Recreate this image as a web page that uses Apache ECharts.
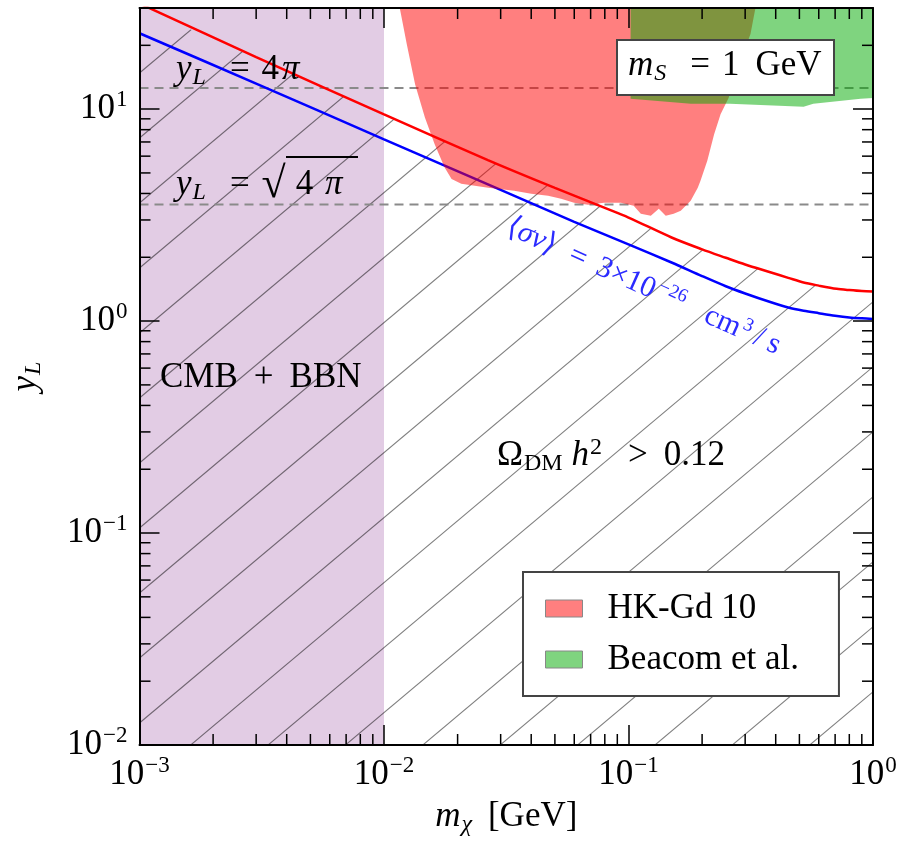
<!DOCTYPE html>
<html>
<head>
<meta charset="utf-8">
<title>y_L vs m_chi</title>
<script src="https://cdn.jsdelivr.net/npm/echarts@6.0.0/dist/echarts.min.js"></script>
<style>
html,body{margin:0;padding:0;background:#ffffff;}
#chart{width:908px;height:844px;}
</style>
</head>
<body>
<div id="chart"></div>
<script>
// ---------------- data ----------------
const xRange = [0.001, 1];
const yRange = [0.01, 30];
const xTickExponents = [-3, -2, -1, 0];
const yTickExponents = [-2, -1, 0, 1];

const cmbBbnX = [0.001, 0.01];
const couplingLimits = [4 * Math.PI, Math.sqrt(4 * Math.PI)];

// Omega_DM h^2 = 0.12 (red line)
const relicM = [0.001, 0.003, 0.01, 0.0266, 0.05, 0.08, 0.1, 0.15, 0.2, 0.25, 0.3, 0.38, 0.45, 0.52, 0.6, 0.71, 0.8, 0.9, 1.0];
const relicY = [31.5, 17.6, 9.45, 5.75, 4.25, 3.42, 3.08, 2.48, 2.18, 1.99, 1.85, 1.70, 1.60, 1.52, 1.47, 1.42, 1.40, 1.385, 1.38];

// <sigma v> = 3e-26 cm^3/s (blue line)
const sigmaM = [0.001, 0.003, 0.01, 0.03, 0.06, 0.1, 0.15, 0.2, 0.25, 0.3, 0.38, 0.45, 0.52, 0.6, 0.7, 0.8, 0.9, 1.0];
const sigmaY = [22.8, 13.2, 7.2, 4.16, 2.94, 2.30, 1.89, 1.63, 1.46, 1.35, 1.23, 1.16, 1.12, 1.09, 1.06, 1.04, 1.03, 1.024];

// HK-Gd 10 region (lower boundary, closed along the top)
const hkM = [0.0116, 0.0124, 0.0134, 0.0147, 0.0161, 0.0177, 0.0189, 0.0207, 0.0267, 0.0341, 0.0400, 0.0469, 0.0530, 0.0599, 0.0683, 0.0794, 0.0931, 0.105, 0.1123, 0.1234, 0.133, 0.142, 0.153, 0.1636, 0.1796, 0.192, 0.197, 0.210, 0.224, 0.238, 0.2566, 0.287, 0.3155, 0.3305];
const hkY = [30, 20.2, 13.1, 9.13, 6.84, 5.31, 4.68, 4.45, 4.26, 4.12, 3.99, 3.90, 3.78, 3.62, 3.54, 3.62, 3.62, 3.50, 3.21, 3.14, 3.39, 3.14, 3.21, 3.32, 3.70, 4.26, 4.59, 5.70, 7.62, 9.47, 11.3, 16.9, 22.6, 30];

// Beacom et al. region
const beacomM = [0.102, 0.102, 0.18, 0.26, 0.52, 0.57, 0.89, 1.0, 1.0];
const beacomY = [30, 11.2, 10.6, 10.6, 10.25, 10.6, 11.2, 11.3, 30];

// ---------------- helpers ----------------
const FONT = "'Liberation Serif', 'Times New Roman', serif";
const BLUE_TXT = '#2b2bff';
const HATCH_STEP = 65;     // vertical distance between hatch lines (px)
const HATCH_SLOPE = 0.84;  // rise per px
const zip = (a, b) => a.map((v, i) => [v, b[i]]);

const xMinor = [], yMinor = [];
for (let d = -3; d < 0; d++) for (let k = 2; k <= 9; k++) xMinor.push(k * Math.pow(10, d));
for (let d = -2; d <= 1; d++) for (let k = 2; k <= 9; k++) { const v = k * Math.pow(10, d); if (v < yRange[1]) yMinor.push(v); }

function powLabel(list) {
  return function (v) {
    const e = Math.log10(v), r = Math.round(e);
    if (Math.abs(e - r) > 1e-6 || list.indexOf(r) < 0) return '';
    return '{b|10}{e|' + String(r).replace('-', '\u2212') + '}';
  };
}
const labelRich = {
  b: { fontFamily: FONT, fontSize: 35, color: '#000' },
  e: { fontFamily: FONT, fontSize: 23, color: '#000', padding: [0, 0, 18, 1] }
};
function tk(size, extra) {
  return Object.assign({ fontFamily: FONT, fontSize: size, fontWeight: 'normal', color: '#000', fill: '#000' }, extra || {});
}
function btk(size, extra) {
  return Object.assign({ fontFamily: FONT, fontSize: size, fontWeight: 'normal', color: BLUE_TXT, fill: BLUE_TXT }, extra || {});
}
const textRich = {
  n: tk(35),
  i: tk(35, { fontStyle: 'italic' }),
  sub: tk(24, { fontStyle: 'italic', padding: [16, 0, 0, 1] }),
  subn: tk(24, { padding: [16, 0, 0, 1] }),
  sup: tk(24, { padding: [0, 0, 16, 1] }),
  eq: tk(35, { padding: [0, 12, 0, 24] }),
  pl: tk(35, { padding: [0, 16, 0, 16] }),
  gt: tk(35, { padding: [0, 16, 0, 26] }),
  n4: tk(35, { padding: [0, 3, 0, 0] }),
  gev: tk(35, { padding: [0, 0, 0, 16] }),
  sqb: tk(44, { padding: [0, 10, 0, 0] }),
  bt: btk(30),
  bi: btk(30, { fontStyle: 'italic' }),
  beq: btk(30, { padding: [0, 13, 0, 16] }),
  bsup: btk(19, { padding: [0, 0, 14, 3] }),
  bsup3: btk(19, { padding: [0, 0, 14, 2] }),
  bcm: btk(30, { padding: [0, 0, 0, 24] }),
  bsl: btk(30, { padding: [0, 6, 0, 6] })
};

function polygonSeries(name, xs, ys, color, z) {
  const data = zip(xs, ys);
  return {
    type: 'custom', name: name, z: z, silent: true,
    coordinateSystem: 'cartesian2d', encode: { x: 0, y: 1 },
    itemStyle: { color: color },
    data: data,
    renderItem: function (params, api) {
      if (params.dataIndex !== 0) return;
      return { type: 'polygon', shape: { points: data.map(p => api.coord(p)) }, style: { fill: color } };
    }
  };
}

// hatch below the relic-density curve, clipped by it
function hatchSeries(xs, ys) {
  const data = zip(xs, ys);
  return {
    type: 'custom', name: 'overabundant', z: 2, silent: true,
    coordinateSystem: 'cartesian2d', encode: { x: 0, y: 1 },
    data: data,
    renderItem: function (params, api) {
      if (params.dataIndex !== 0) return;
      const tl = api.coord([xRange[0], yRange[1]]);
      const br = api.coord([xRange[1], yRange[0]]);
      const W = br[0] - tl[0];
      const clip = data.map(p => { const c = api.coord(p); return [c[0], Math.max(c[1], tl[1])]; });
      clip.push([br[0], br[1]], [tl[0], br[1]]);
      const n = Math.ceil((br[1] - tl[1] + HATCH_SLOPE * W) / HATCH_STEP);
      const children = [];
      for (let k = 1; k <= n; k++) {
        const y0 = tl[1] + k * HATCH_STEP;
        children.push({
          type: 'line',
          shape: { x1: tl[0], y1: y0, x2: br[0], y2: y0 - HATCH_SLOPE * W },
          style: { stroke: 'rgba(0,0,0,0.5)', lineWidth: 1.1 }
        });
      }
      return { type: 'group', children: children, clipPath: { type: 'polygon', shape: { points: clip } } };
    }
  };
}

function tickSeries(values, isX) {
  return {
    type: 'custom', z: 12, silent: true,
    coordinateSystem: 'cartesian2d', encode: { x: 0, y: 1 },
    data: values.map(v => isX ? [v, yRange[0]] : [xRange[0], v]),
    renderItem: function (params, api) {
      const st = { stroke: '#000', lineWidth: 1.5 };
      if (isX) {
        const v = api.value(0);
        const b = api.coord([v, yRange[0]]), t = api.coord([v, yRange[1]]);
        return { type: 'group', children: [
          { type: 'line', shape: { x1: b[0], y1: b[1], x2: b[0], y2: b[1] - 11 }, style: st },
          { type: 'line', shape: { x1: t[0], y1: t[1], x2: t[0], y2: t[1] + 11 }, style: st }
        ] };
      } else {
        const v = api.value(1);
        const l = api.coord([xRange[0], v]), r = api.coord([xRange[1], v]);
        return { type: 'group', children: [
          { type: 'line', shape: { x1: l[0], y1: l[1], x2: l[0] + 11, y2: l[1] }, style: st },
          { type: 'line', shape: { x1: r[0], y1: r[1], x2: r[0] - 11, y2: r[1] }, style: st }
        ] };
      }
    }
  };
}

const axisCommon = {
  type: 'log', logBase: 10, z: 10,
  axisLine: { show: true, onZero: false, lineStyle: { color: '#000', width: 2 } },
  axisTick: { show: true, inside: true, length: 20, lineStyle: { color: '#000', width: 1.5 } },
  splitLine: { show: false },
  minorTick: { show: false }
};

const chart = echarts.init(document.getElementById('chart'), null, { renderer: 'canvas' });

const option = {
  animation: false,
  backgroundColor: '#ffffff',
  grid: { left: 137, top: 8, right: 35, bottom: 99, containLabel: false },
  xAxis: [
    Object.assign({}, axisCommon, {
      position: 'bottom', min: xRange[0], max: xRange[1],
      axisLabel: { show: true, margin: 9, formatter: powLabel(xTickExponents), rich: labelRich },
      name: '{i|m}{sub|\u03c7}{gev|[GeV]}', nameLocation: 'middle', nameGap: 52,
      nameTextStyle: { rich: textRich }
    }),
    Object.assign({}, axisCommon, {
      position: 'top', min: xRange[0], max: xRange[1], axisLabel: { show: false }
    })
  ],
  yAxis: [
    Object.assign({}, axisCommon, {
      position: 'left', min: yRange[0], max: yRange[1],
      axisLabel: { show: true, margin: 12, formatter: powLabel(yTickExponents), rich: labelRich },
      name: '{i|y}{sub|L}', nameLocation: 'middle', nameGap: 94, nameRotate: 90,
      nameTextStyle: { rich: textRich }
    }),
    Object.assign({}, axisCommon, {
      position: 'right', min: yRange[0], max: yRange[1], axisLabel: { show: false }
    })
  ],
  title: {
    text: '{i|m}{sub|S}{eq|=}{n|1}{gev|GeV}',
    left: 617, top: 37, z: 20,
    backgroundColor: '#ffffff', borderColor: '#444', borderWidth: 2,
    padding: [9, 13, 9, 11],
    textStyle: { fontWeight: 'normal', fontFamily: FONT, rich: textRich }
  },
  legend: {
    data: ['HK-Gd 10', 'Beacom et al.'],
    orient: 'vertical', left: 523, top: 572, z: 20,
    backgroundColor: '#ffffff', borderColor: '#444', borderWidth: 2,
    padding: [19, 40, 19, 22],
    itemWidth: 37, itemHeight: 17, itemGap: 16,
    icon: 'rect', selectedMode: false,
    itemStyle: { borderColor: '#888', borderWidth: 1 },
    textStyle: { fontFamily: FONT, fontSize: 35, color: '#000', padding: [0, 0, 0, 20] }
  },
  series: [
    {
      type: 'line', name: 'CMB + BBN', z: 1, silent: true, symbol: 'none',
      data: cmbBbnX.map(x => [x, yRange[1]]),
      lineStyle: { width: 0, opacity: 0 },
      areaStyle: { origin: 'start', color: '#e2cce4', opacity: 1 }
    },
    hatchSeries(relicM, relicY)
  ].concat(couplingLimits.map(v => ({
      type: 'line', z: 3, silent: true, symbol: 'none',
      data: [[xRange[0], v], [xRange[1], v]],
      lineStyle: { color: '#8a8a8a', width: 2, type: [9, 6] }
  }))).concat([
    {
      type: 'line', name: 'sigma v', z: 4, silent: true, symbol: 'none', smooth: 0.3,
      data: zip(sigmaM, sigmaY),
      lineStyle: { color: '#0000ff', width: 2.5 }
    },
    polygonSeries('HK-Gd 10', hkM, hkY, 'rgba(255,0,0,0.5)', 5),
    polygonSeries('Beacom et al.', beacomM, beacomY, 'rgba(0,170,0,0.5)', 6),
    {
      type: 'line', name: 'relic', z: 7, silent: true, symbol: 'none', smooth: 0.3,
      data: zip(relicM, relicY),
      lineStyle: { color: '#ff0000', width: 2.5 }
    },
    tickSeries(xMinor, true),
    tickSeries(yMinor, false)
  ]),
  graphic: [
    { type: 'text', x: 176, y: 70, z: 15, style: { text: '{i|y}{sub|L}{eq|=}{n4|4}{i|\u03c0}', rich: textRich, align: 'left', verticalAlign: 'middle' } },
    { type: 'text', x: 176, y: 185, z: 15, style: { text: '{i|y}{sub|L}{eq|=}{sqb|\u221a}{n4|4}{i| \u03c0}', rich: textRich, align: 'left', verticalAlign: 'middle' } },
    { type: 'line', z: 15, shape: { x1: 286, y1: 157, x2: 358, y2: 157 }, style: { stroke: '#000', lineWidth: 1.8 } },
    { type: 'text', x: 160, y: 378, z: 15, style: { text: '{n|CMB}{pl|+}{n|BBN}', rich: textRich, align: 'left', verticalAlign: 'middle' } },
    { type: 'text', x: 497, y: 456, z: 15, style: { text: '{n|\u03a9}{subn|DM}{i| h}{sup|2}{gt|>}{n|0.12}', rich: textRich, align: 'left', verticalAlign: 'middle' } },
    { type: 'text', x: 508, y: 226, z: 15, rotation: -0.42, style: { text: '{bt|\u27e8}{bi|\u03c3v}{bt|\u27e9}{beq|=}{bt|3\u00d710}{bsup|\u221226}{bcm|cm}{bsup3|3}{bsl|/}{bt|s}', rich: textRich, align: 'left', verticalAlign: 'middle' } }
  ]
};

chart.setOption(option);
</script>
</body>
</html>
